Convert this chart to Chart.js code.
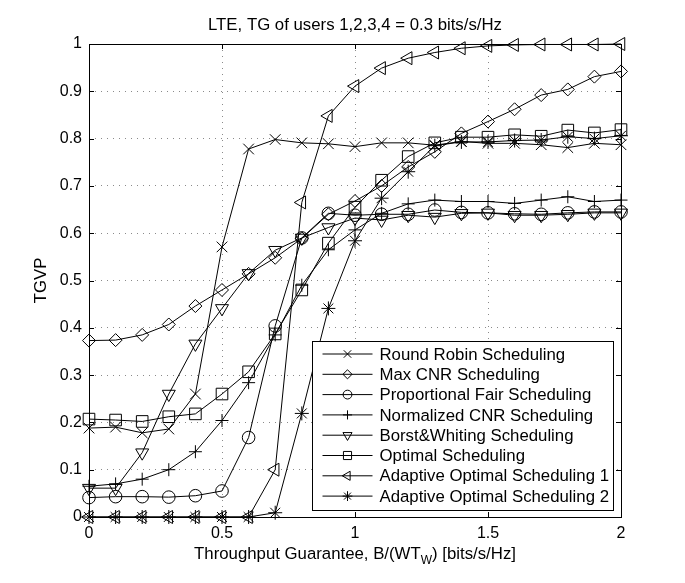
<!DOCTYPE html>
<html>
<head>
<meta charset="utf-8">
<script src="https://cdn.jsdelivr.net/npm/chart.js@4"></script>
<style>
  html, body { margin: 0; padding: 0; background: #fff; }
  #wrap { width: 685px; height: 583px; }
</style>
</head>
<body>
<div id="wrap"><canvas id="myChart" width="685" height="583"></canvas></div>
<script>
// x positions of the samples (throughput guarantee)
const xs = [0, 0.1, 0.2, 0.3, 0.4, 0.5, 0.6, 0.7, 0.8, 0.9, 1.0, 1.1, 1.2, 1.3, 1.4, 1.5, 1.6, 1.7, 1.8, 1.9, 2.0];

// TGVP per scheduler
const roundRobin = [0.188, 0.19, 0.178, 0.186, 0.26, 0.571, 0.778, 0.798, 0.791, 0.789, 0.783, 0.791, 0.791, 0.786, 0.794, 0.79, 0.79, 0.787, 0.781, 0.79, 0.787];
const maxCNR = [0.373, 0.374, 0.385, 0.407, 0.446, 0.48, 0.514, 0.548, 0.589, 0.64, 0.668, 0.70, 0.74, 0.772, 0.811, 0.836, 0.862, 0.892, 0.904, 0.931, 0.942];
const propFair = [0.041, 0.043, 0.043, 0.042, 0.045, 0.055, 0.168, 0.404, 0.59, 0.642, 0.638, 0.64, 0.64, 0.649, 0.644, 0.643, 0.641, 0.64, 0.643, 0.645, 0.645];
const normCNR = [0.065, 0.07, 0.08, 0.1, 0.138, 0.204, 0.284, 0.385, 0.49, 0.565, 0.607, 0.642, 0.662, 0.67, 0.667, 0.667, 0.663, 0.67, 0.677, 0.667, 0.67];
const borstWhiting = [0.061, 0.061, 0.136, 0.26, 0.366, 0.441, 0.515, 0.564, 0.59, 0.612, 0.632, 0.628, 0.638, 0.634, 0.642, 0.643, 0.638, 0.638, 0.64, 0.643, 0.643];
const optimal = [0.207, 0.205, 0.202, 0.212, 0.218, 0.26, 0.307, 0.387, 0.48, 0.579, 0.655, 0.712, 0.762, 0.791, 0.803, 0.803, 0.808, 0.805, 0.818, 0.812, 0.819];
const adaptive1 = [0, 0, 0, 0, 0, 0, 0, 0.1, 0.665, 0.848, 0.911, 0.949, 0.97, 0.982, 0.991, 0.996, 0.998, 0.999, 0.999, 0.999, 1.0];
const adaptive2 = [0, 0, 0, 0, 0, 0, 0, 0.009, 0.219, 0.441, 0.584, 0.674, 0.73, 0.785, 0.793, 0.793, 0.796, 0.797, 0.804, 0.8, 0.806];

// tick labels
const xTicks = [0, 0.5, 1, 1.5, 2];
const yTicks = [0, 0.1, 0.2, 0.3, 0.4, 0.5, 0.6, 0.7, 0.8, 0.9, 1];

const FONT = '"Liberation Sans", Arial, Helvetica, sans-serif';
const LABEL_SIZE = 16.8;

function series(label, values, pointStyle, radius, rotation) {
    return {
        label: label,
        data: xs.map((x, i) => ({ x: x, y: values[i] })),
        borderColor: '#000',
        borderWidth: 1,
        pointStyle: pointStyle,
        pointRadius: radius,
        pointRotation: rotation || 0,
        pointBorderColor: '#000',
        pointBorderWidth: 1,
        pointBackgroundColor: 'rgba(0,0,0,0)',
        pointHoverRadius: radius,
        tension: 0,
        clip: false
    };
}

const datasets = [
    series('Round Robin Scheduling', roundRobin, 'crossRot', 7.5),
    series('Max CNR Scheduling', maxCNR, 'rectRot', 6.5),
    series('Proportional Fair Scheduling', propFair, 'circle', 6.3),
    series('Normalized CNR Scheduling', normCNR, 'cross', 6.5),
    series('Borst&Whiting Scheduling', borstWhiting, 'triangle', 7.5, 180),
    series('Optimal Scheduling', optimal, 'rect', 8.2),
    series('Adaptive Optimal Scheduling 1', adaptive1, 'triangle', 7.5, -90),
    series('Adaptive Optimal Scheduling 2', adaptive2, 'star', 7)
];

function drawMarker(ctx, ds, x, y, r) {
    ctx.save();
    ctx.fillStyle = 'rgba(0,0,0,0)';
    ctx.strokeStyle = '#000';
    if (Chart.helpers && Chart.helpers.drawPoint) {
        Chart.helpers.drawPoint(ctx, {
            pointStyle: ds.pointStyle,
            rotation: ds.pointRotation,
            radius: r,
            borderWidth: 1
        }, x, y);
    } else {
        ctx.beginPath();
        ctx.arc(x, y, r, 0, Math.PI * 2);
        ctx.stroke();
    }
    ctx.restore();
}

// frame, inward ticks, titles and the boxed legend (MATLAB look)
const decorations = {
    id: 'decorations',
    afterDatasetsDraw(chart) {
        const ctx = chart.ctx;
        const a = chart.chartArea;
        const sx = chart.scales.x, sy = chart.scales.y;
        ctx.save();
        ctx.strokeStyle = '#000';
        ctx.fillStyle = '#000';
        ctx.lineWidth = 1;
        ctx.setLineDash([]);

        // box
        ctx.strokeRect(Math.round(a.left) + 0.5, Math.round(a.top) + 0.5,
            Math.round(a.right - a.left), Math.round(a.bottom - a.top));

        // inward ticks
        const tl = 5;
        ctx.beginPath();
        xTicks.forEach(v => {
            const px = Math.round(sx.getPixelForValue(v)) + 0.5;
            ctx.moveTo(px, a.bottom); ctx.lineTo(px, a.bottom - tl);
            ctx.moveTo(px, a.top); ctx.lineTo(px, a.top + tl);
        });
        yTicks.forEach(v => {
            const py = Math.round(sy.getPixelForValue(v)) + 0.5;
            ctx.moveTo(a.left, py); ctx.lineTo(a.left + tl, py);
            ctx.moveTo(a.right, py); ctx.lineTo(a.right - tl, py);
        });
        ctx.stroke();

        // title
        ctx.font = LABEL_SIZE + 'px ' + FONT;
        ctx.textAlign = 'center';
        ctx.textBaseline = 'middle';
        ctx.fillText('LTE, TG of users 1,2,3,4 = 0.3 bits/s/Hz', (a.left + a.right) / 2, 25);

        // y label
        ctx.save();
        ctx.translate(41, (a.top + a.bottom) / 2);
        ctx.rotate(-Math.PI / 2);
        ctx.fillText('TGVP', 0, 0);
        ctx.restore();

        // x label with subscript W
        const p1 = 'Throughput Guarantee, B/(WT';
        const sub = 'W';
        const p2 = ') [bits/s/Hz]';
        ctx.font = LABEL_SIZE + 'px ' + FONT;
        const w1 = ctx.measureText(p1).width;
        const w3 = ctx.measureText(p2).width;
        ctx.font = '12px ' + FONT;
        const w2 = ctx.measureText(sub).width;
        let x0 = (a.left + a.right) / 2 - (w1 + w2 + w3) / 2;
        const yb = 559;
        ctx.textAlign = 'left';
        ctx.textBaseline = 'alphabetic';
        ctx.font = LABEL_SIZE + 'px ' + FONT;
        ctx.fillText(p1, x0, yb);
        ctx.font = '12px ' + FONT;
        ctx.fillText(sub, x0 + w1, yb + 5);
        ctx.font = LABEL_SIZE + 'px ' + FONT;
        ctx.fillText(p2, x0 + w1 + w2, yb);

        // legend
        const bw = 301, bh = 169;
        const bx = Math.round(a.right - 8 - bw) + 0.5;
        const by = Math.round(a.bottom - 7 - bh) + 0.5;
        ctx.fillStyle = '#fff';
        ctx.fillRect(bx, by, bw, bh);
        ctx.strokeRect(bx, by, bw, bh);
        ctx.fillStyle = '#000';
        ctx.textBaseline = 'middle';
        ctx.font = LABEL_SIZE + 'px ' + FONT;
        chart.data.datasets.forEach((ds, i) => {
            const yy = by + 12.5 + i * 20.3;
            ctx.beginPath();
            ctx.moveTo(bx + 10, yy);
            ctx.lineTo(bx + 60, yy);
            ctx.stroke();
            drawMarker(ctx, ds, bx + 35, yy, ds.pointRadius * 0.7);
            ctx.fillStyle = '#000';
            ctx.fillText(ds.label, bx + 67, yy + 1);
        });
        ctx.restore();
    }
};

Chart.defaults.color = '#000';
Chart.defaults.font.family = FONT;
Chart.defaults.font.size = 16;

const ctx = document.getElementById('myChart').getContext('2d');
const myChart = new Chart(ctx, {
    type: 'line',
    data: { datasets: datasets },
    options: {
        responsive: false,
        animation: false,
        layout: { padding: { top: 44, right: 64, left: 0, bottom: 0 } },
        plugins: {
            legend: { display: false },
            tooltip: { enabled: false },
            title: { display: false }
        },
        scales: {
            x: {
                type: 'linear',
                min: 0,
                max: 2,
                afterFit(scale) { scale.height = 66; },
                afterBuildTicks(scale) { scale.ticks = xTicks.map(v => ({ value: v })); },
                ticks: {
                    padding: 7,
                    maxRotation: 0,
                    callback: v => String(v)
                },
                grid: { color: '#8a8a8a', lineWidth: 1, drawTicks: false },
                border: { display: false, dash: [1, 5] }
            },
            y: {
                min: 0,
                max: 1,
                afterFit(scale) { scale.width = 89; },
                afterBuildTicks(scale) { scale.ticks = yTicks.map(v => ({ value: v })); },
                ticks: {
                    padding: 7,
                    callback: v => String(v)
                },
                grid: { color: '#8a8a8a', lineWidth: 1, drawTicks: false },
                border: { display: false, dash: [1, 5] }
            }
        }
    },
    plugins: [decorations]
});
</script>
</body>
</html>
